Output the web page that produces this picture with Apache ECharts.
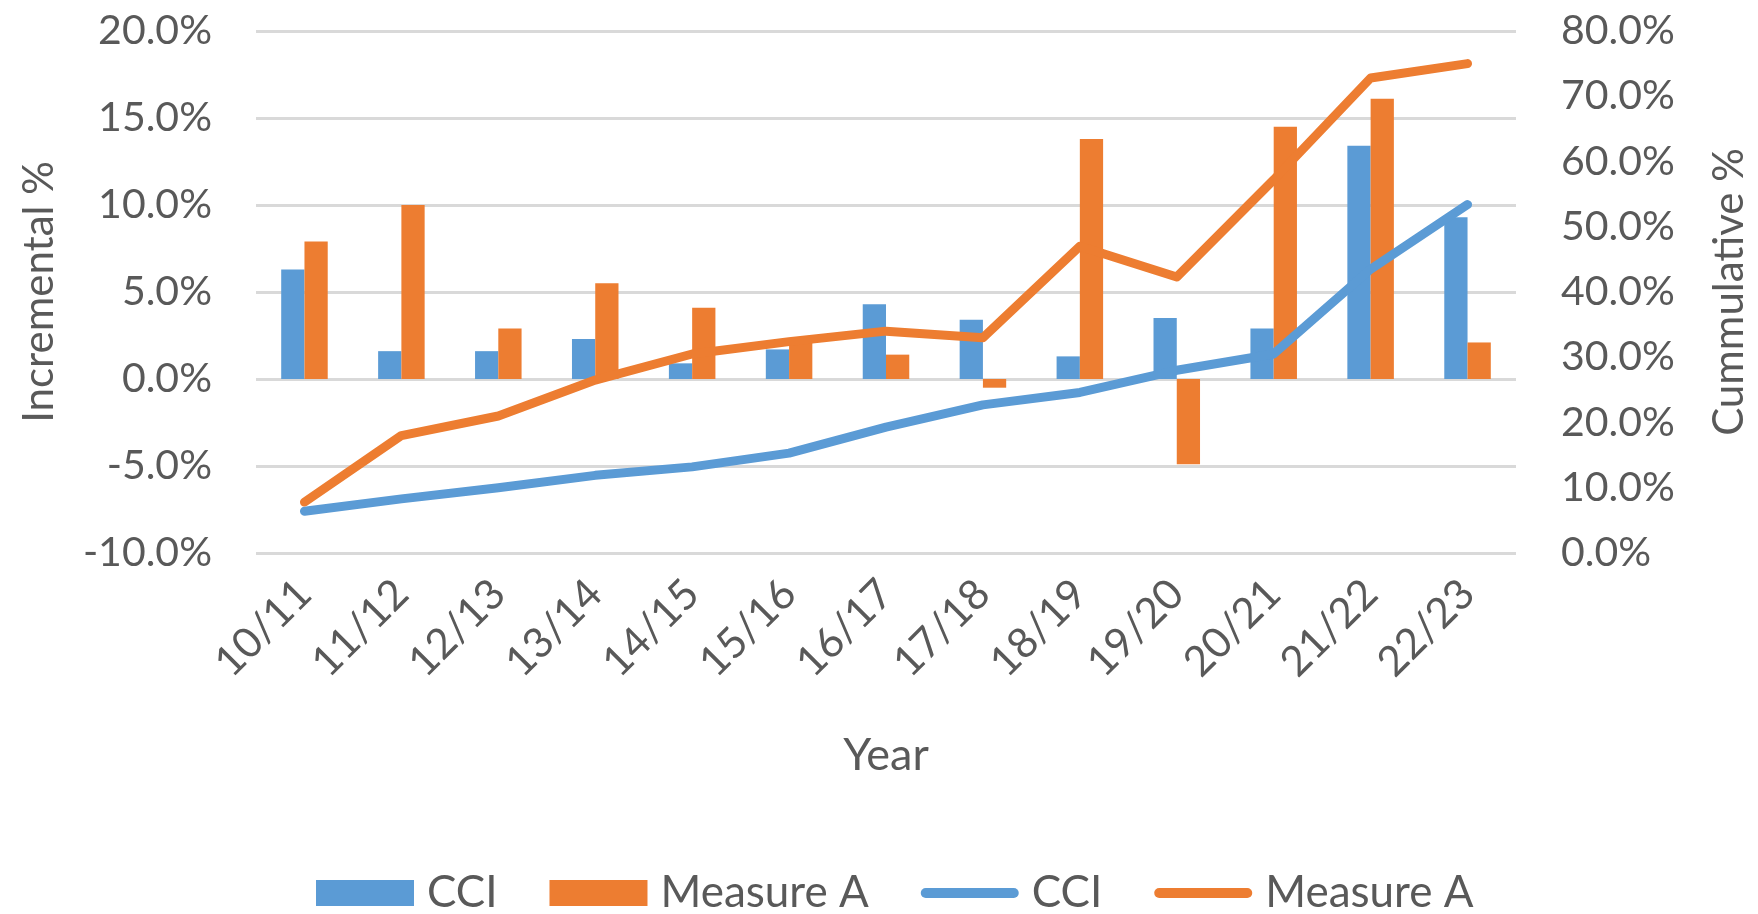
<!DOCTYPE html>
<html>
<head>
<meta charset="utf-8">
<script src="https://cdn.jsdelivr.net/npm/echarts@6/dist/echarts.min.js"></script>
<style>
html,body{margin:0;padding:0;background:#fff;}
#chart{width:1758px;height:914px;}
</style>
</head>
<body>
<div id="chart"></div>
<script>
const categories = ['10/11','11/12','12/13','13/14','14/15','15/16','16/17','17/18','18/19','19/20','20/21','21/22','22/23'];
const cciIncremental = [6.3, 1.6, 1.6, 2.3, 0.9, 1.7, 4.3, 3.4, 1.3, 3.5, 2.9, 13.4, 9.3];
const measureAIncremental = [7.9, 10.0, 2.9, 5.5, 4.1, 2.2, 1.4, -0.5, 13.8, -4.9, 14.5, 16.1, 2.1];
const cciCumulative = [6.4, 8.3, 10.0, 11.9, 13.2, 15.3, 19.3, 22.7, 24.6, 28.0, 30.5, 43.5, 53.4];
const measureACumulative = [7.8, 18.0, 21.0, 26.5, 30.5, 32.4, 34.0, 33.0, 47.0, 42.3, 57.2, 72.8, 75.0];
const leftTicks = {min: -10, max: 20, interval: 5};
const rightTicks = {min: 0, max: 80, interval: 10};

const BLUE = '#5B9BD5', ORANGE = '#ED7D31', TXT = '#595959';
const FONT = 'Lato';
const lineIcon = 'path://M5,0 L93,0 A5,5 0 0 1 93,10 L5,10 A5,5 0 0 1 5,0 Z';

const chart = echarts.init(document.getElementById('chart'), null, {renderer: 'canvas'});
chart.setOption({
  animation: false,
  backgroundColor: '#fff',
  textStyle: {fontFamily: FONT, color: TXT},
  grid: {left: 256, right: 240, top: 31, bottom: 361, containLabel: false},
  legend: {
    top: 866,
    left: 311,
    itemWidth: 98,
    itemHeight: 26,
    itemGap: 52,
    textStyle: {fontFamily: FONT, fontSize: 44, color: TXT, padding: [0, 0, 0, 8]},
    formatter: n => n.replace(/ \((bar|line)\)$/, ''),
    data: [
      {name: 'CCI (bar)', icon: 'rect'},
      {name: 'Measure A (bar)', icon: 'rect'},
      {name: 'CCI (line)', icon: lineIcon},
      {name: 'Measure A (line)', icon: lineIcon}
    ]
  },
  xAxis: {
    type: 'category',
    data: categories,
    axisLine: {show: false, onZero: false},
    axisTick: {show: false},
    axisLabel: {rotate: 45, fontSize: 42, color: TXT, fontFamily: FONT, margin: 34, interval: 0},
    name: 'Year',
    nameLocation: 'middle',
    nameGap: 180,
    nameTextStyle: {fontSize: 45, color: TXT, fontFamily: FONT}
  },
  yAxis: [
    {
      type: 'value',
      min: leftTicks.min, max: leftTicks.max, interval: leftTicks.interval,
      position: 'left',
      axisLine: {show: false},
      axisTick: {show: false},
      axisLabel: {fontSize: 41, color: TXT, fontFamily: FONT, margin: 44, formatter: v => v.toFixed(1) + '%'},
      splitLine: {show: true, lineStyle: {color: '#D9D9D9', width: 3}},
      name: 'Incremental %',
      nameLocation: 'middle',
      nameRotate: 90,
      nameGap: 196,
      nameTextStyle: {fontSize: 42, color: TXT, fontFamily: FONT}
    },
    {
      type: 'value',
      min: rightTicks.min, max: rightTicks.max, interval: rightTicks.interval,
      position: 'right',
      axisLine: {show: false},
      axisTick: {show: false},
      axisLabel: {fontSize: 41, color: TXT, fontFamily: FONT, margin: 45, formatter: v => v.toFixed(1) + '%'},
      splitLine: {show: false},
      name: 'Cummulative %',
      nameLocation: 'middle',
      nameRotate: 90,
      nameGap: 192,
      nameTextStyle: {fontSize: 42, color: TXT, fontFamily: FONT}
    }
  ],
  series: [
    {name: 'CCI (bar)', type: 'bar', yAxisIndex: 0, data: cciIncremental, itemStyle: {color: BLUE}, barGap: '0%', barCategoryGap: '52%'},
    {name: 'Measure A (bar)', type: 'bar', yAxisIndex: 0, data: measureAIncremental, itemStyle: {color: ORANGE}, barGap: '0%', barCategoryGap: '52%'},
    {name: 'CCI (line)', type: 'line', yAxisIndex: 1, data: cciCumulative, symbol: 'none', itemStyle: {color: BLUE},
     lineStyle: {color: BLUE, width: 9, cap: 'round', join: 'round'}, z: 3},
    {name: 'Measure A (line)', type: 'line', yAxisIndex: 1, data: measureACumulative, symbol: 'none', itemStyle: {color: ORANGE},
     lineStyle: {color: ORANGE, width: 9, cap: 'round', join: 'round'}, z: 4}
  ]
});
</script>
</body>
</html>
